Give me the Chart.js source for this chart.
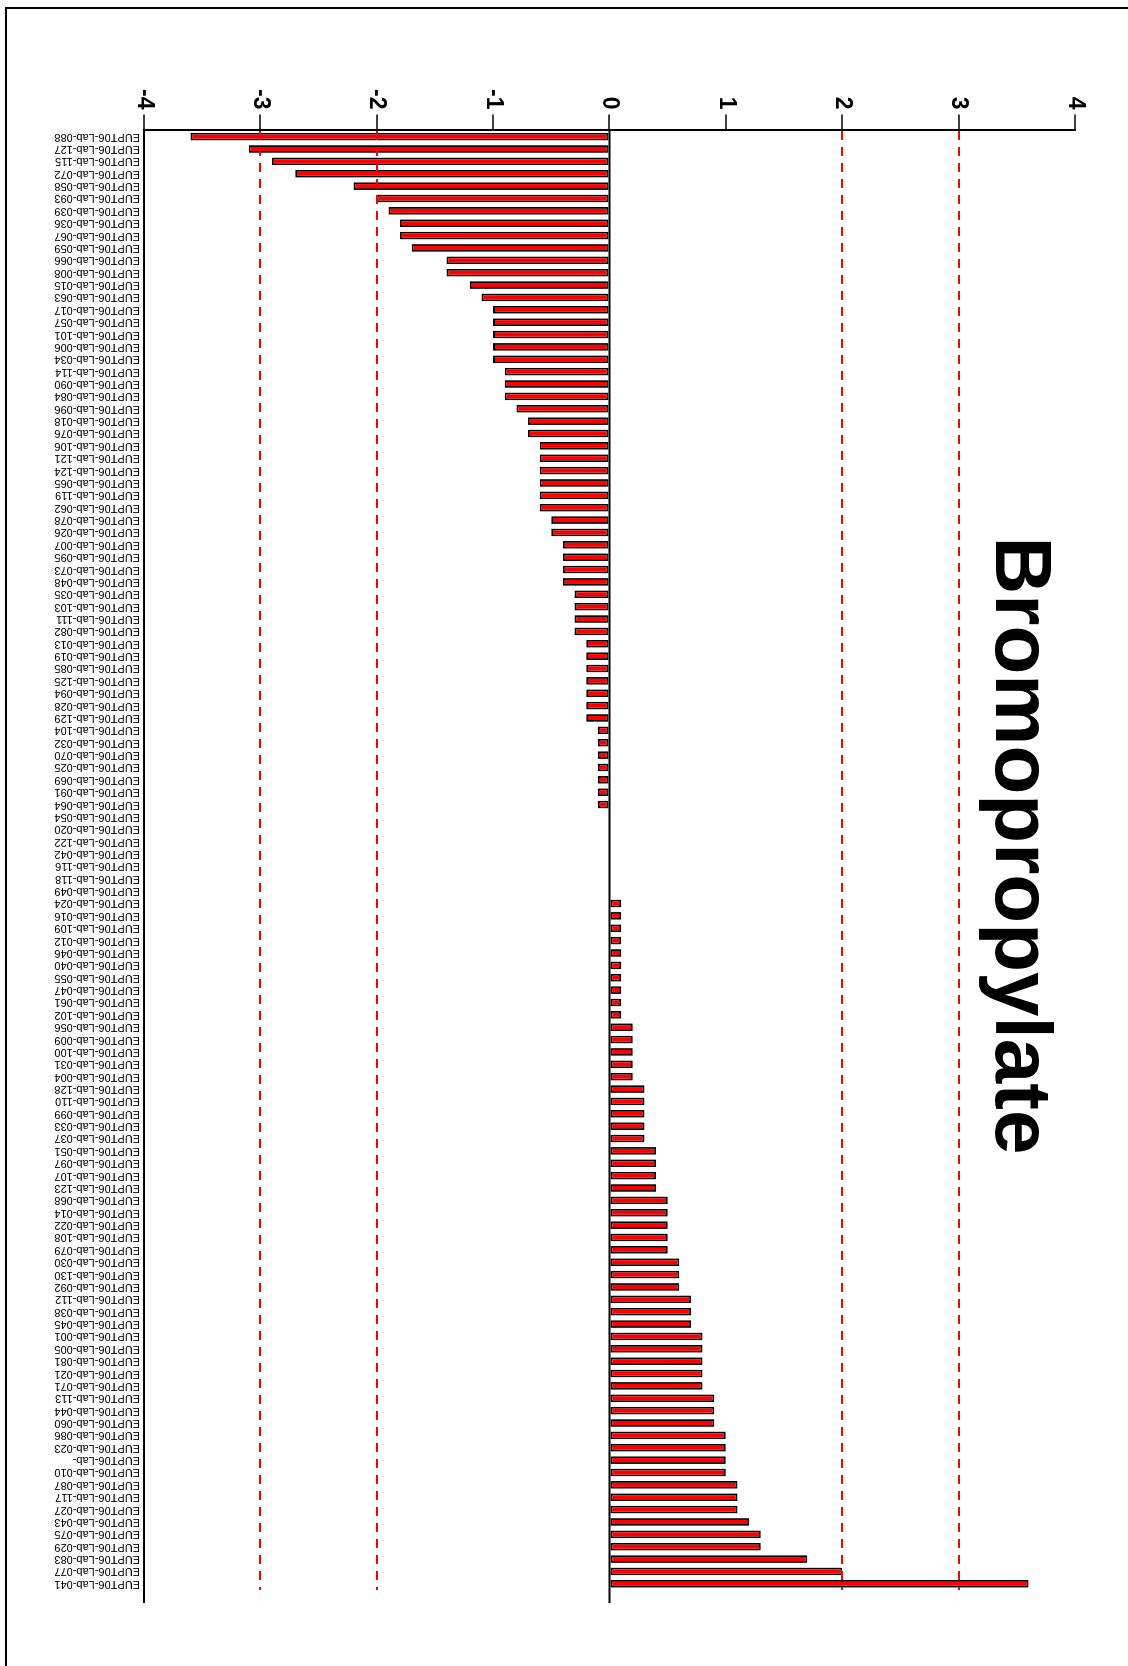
<!DOCTYPE html>
<html>
<head>
<meta charset="utf-8">
<script src="https://cdn.jsdelivr.net/npm/chart.js@4.4.0/dist/chart.umd.min.js"></script>
<style>
  html, body { margin: 0; padding: 0; background: #fff; overflow: hidden; }
  body { width: 1128px; height: 1666px; position: relative; }
  #frame { position: absolute; left: 5px; top: 7px; width: 1200px; height: 1700px;
           border-left: 2px solid #000; border-top: 2px solid #000; }
  #chart { position: absolute; left: 0; top: 0; transform-origin: 0 0;
           transform: translateX(1128px) rotate(90deg); }
</style>
</head>
<body>
<div id="frame"></div>
<canvas id="chart" width="1666" height="1128"></canvas>
<script>
const chartTitle = 'Bromopropylate';
const labPrefix = 'EUPT06-Lab-';

// lab codes, in the order of the bars (lowest score first)
const labCodes = [
  '088', '127', '115', '072', '058', '093', '039', '036', '067', '059',
  '066', '008', '015', '063', '017', '057', '101', '006', '034', '114',
  '090', '084', '096', '018', '076', '106', '121', '124', '065', '119',
  '062', '078', '026', '007', '095', '073', '048', '035', '103', '111',
  '082', '013', '019', '085', '125', '094', '028', '129', '104', '032',
  '070', '025', '069', '091', '064', '054', '020', '122', '042', '116',
  '118', '049', '024', '016', '109', '012', '046', '040', '055', '047',
  '061', '102', '056', '009', '100', '031', '004', '128', '110', '099',
  '033', '037', '051', '097', '107', '123', '068', '014', '022', '108',
  '079', '030', '130', '092', '112', '038', '045', '001', '005', '081',
  '021', '071', '113', '044', '060', '086', '023', '', '010', '087',
  '117', '027', '043', '075', '029', '083', '077', '041'
];

// z-scores
const zScores = [
  -3.6, -3.1, -2.9, -2.7, -2.2, -2.0, -1.9, -1.8, -1.8, -1.7,
  -1.4, -1.4, -1.2, -1.1, -1.0, -1.0, -1.0, -1.0, -1.0, -0.9,
  -0.9, -0.9, -0.8, -0.7, -0.7, -0.6, -0.6, -0.6, -0.6, -0.6,
  -0.6, -0.5, -0.5, -0.4, -0.4, -0.4, -0.4, -0.3, -0.3, -0.3,
  -0.3, -0.2, -0.2, -0.2, -0.2, -0.2, -0.2, -0.2, -0.1, -0.1,
  -0.1, -0.1, -0.1, -0.1, -0.1, 0, 0, 0, 0, 0,
  0, 0, 0.1, 0.1, 0.1, 0.1, 0.1, 0.1, 0.1, 0.1,
  0.1, 0.1, 0.2, 0.2, 0.2, 0.2, 0.2, 0.3, 0.3, 0.3,
  0.3, 0.3, 0.4, 0.4, 0.4, 0.4, 0.5, 0.5, 0.5, 0.5,
  0.5, 0.6, 0.6, 0.6, 0.7, 0.7, 0.7, 0.8, 0.8, 0.8,
  0.8, 0.8, 0.9, 0.9, 0.9, 1.0, 1.0, 1.0, 1.0, 1.1,
  1.1, 1.1, 1.2, 1.3, 1.3, 1.7, 2.0, 3.6
];

const scoreMin = -4;
const scoreMax = 4;
const limitLines = [-3, -2, 2, 3];

const labels = labCodes.map(c => labPrefix + c);

// axis lines, rotated lab names and the title
const overlay = {
    id: 'overlay',
    afterDatasetsDraw(chart) {
        const ctx = chart.ctx;
        const area = chart.chartArea;
        const xs = chart.scales.x;
        const ys = chart.scales.y;
        const ext = 13;

        ctx.save();
        ctx.strokeStyle = '#000';
        ctx.lineWidth = 2;
        [0, scoreMin].forEach(v => {
            const y = ys.getPixelForValue(v);
            ctx.beginPath();
            ctx.moveTo(area.left, y);
            ctx.lineTo(area.right + ext, y);
            ctx.stroke();
        });

        ctx.fillStyle = '#000';
        ctx.font = '11px "Liberation Sans", Arial, sans-serif';
        ctx.textAlign = 'left';
        ctx.textBaseline = 'middle';
        chart.data.labels.forEach((lab, i) => {
            ctx.save();
            ctx.translate(xs.getPixelForValue(i), area.bottom + 4);
            ctx.rotate(Math.PI / 2);
            ctx.fillText(lab, 0, 0);
            ctx.restore();
        });

        ctx.font = 'bold 80px "Liberation Sans", Arial, sans-serif';
        ctx.textAlign = 'center';
        ctx.textBaseline = 'alphabetic';
        ctx.fillText(chartTitle, area.left + 715, 132);
        ctx.restore();
    }
};

new Chart(document.getElementById('chart'), {
    type: 'bar',
    data: {
        labels: labels,
        datasets: [{
            data: zScores,
            backgroundColor: '#ff0000',
            borderColor: '#000',
            borderWidth: 1.8,
            borderSkipped: false,
            barPercentage: 0.62,
            categoryPercentage: 1
        }]
    },
    options: {
        responsive: false,
        animation: false,
        layout: { padding: { left: 84, right: 76, top: 53, bottom: 144 } },
        plugins: {
            legend: { display: false },
            tooltip: { enabled: false },
            title: { display: false }
        },
        scales: {
            x: {
                offset: true,
                grid: { display: false, drawTicks: false },
                border: { display: false },
                ticks: { display: false }
            },
            y: {
                min: scoreMin,
                max: scoreMax,
                ticks: {
                    stepSize: 1,
                    color: '#000',
                    padding: 5,
                    font: { family: 'Liberation Sans', size: 23, weight: 'bold' }
                },
                grid: {
                    z: 1,
                    color: c => limitLines.includes(c.tick.value) ? '#ff0000' : 'rgba(0,0,0,0)',
                    lineWidth: 2,
                    tickColor: '#000',
                    tickLength: 16,
                    tickWidth: 1.5,
                    tickBorderDash: []
                },
                border: { display: true, color: '#000', width: 2, dash: [9, 7], z: 2 }
            }
        }
    },
    plugins: [overlay]
});
</script>
</body>
</html>
